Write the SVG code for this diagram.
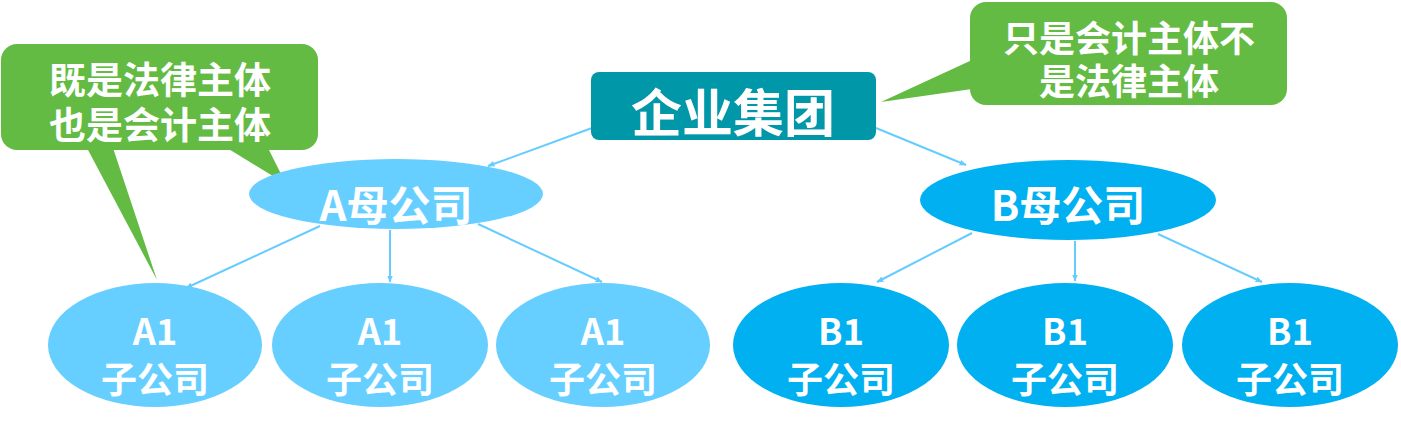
<svg xmlns="http://www.w3.org/2000/svg" width="1401" height="421" viewBox="0 0 1401 421">
<defs>
<style>
.t{font-family:"Microsoft YaHei","Noto Sans CJK SC",sans-serif;font-weight:bold;fill:#fff;text-anchor:middle}
.c{fill:#63BB44}
.ea{fill:#66CFFF}
.eb{fill:#00B0F0}
.s{font-size:36px}
.ln{stroke:#66CCFF;stroke-width:2;fill:none;marker-end:url(#ah)}
</style>
<marker id="ah" viewBox="0 0 12 10" refX="11" refY="5" markerWidth="7" markerHeight="6" orient="auto" markerUnits="userSpaceOnUse">
<path d="M0,0 L12,5 L0,10 Z" fill="#66CCFF"/>
</marker>
</defs>
<g id="connectors">
<line class="ln" x1="592" y1="128" x2="488" y2="166"/>
<line class="ln" x1="876" y1="128" x2="966" y2="165"/>
<line class="ln" x1="320" y1="226" x2="186" y2="288"/>
<line class="ln" x1="390" y1="230" x2="390" y2="282"/>
<line class="ln" x1="478" y1="224" x2="602" y2="282"/>
<line class="ln" x1="972" y1="233" x2="877" y2="282"/>
<line class="ln" x1="1075" y1="241" x2="1075" y2="281"/>
<line class="ln" x1="1158" y1="234" x2="1262" y2="282"/>
</g>
<g id="callout-left">
<rect class="c" x="1" y="44" width="317" height="106" rx="16"/>
<polygon class="c" points="87,148 113,148 157,280"/>
<polygon class="c" points="227,148 268,148 286,184"/>
<text class="t" x="160" y="94" font-size="37">既是法律主体</text>
<text class="t" x="160" y="139" font-size="37">也是会计主体</text>
</g>
<g id="callout-right">
<rect class="c" x="970" y="2" width="317" height="103" rx="16"/>
<polygon class="c" points="972,60 972,89 881,102"/>
<text class="t" x="1129" y="52" font-size="36">只是会计主体不</text>
<text class="t" x="1129" y="95" font-size="36">是法律主体</text>
</g>
<g id="group">
<rect x="591" y="72" width="285" height="68" rx="8" fill="#0097A9"/>
<text class="t" x="733" y="132" font-size="51">企业集团</text>
</g>
<g id="parentA">
<ellipse class="ea" cx="396" cy="194" rx="147" ry="35"/>
<text class="t" x="396" y="221" font-size="42">A母公司</text>
</g>
<g id="parentB">
<ellipse class="eb" cx="1068" cy="200" rx="148" ry="40"/>
<text class="t" x="1068" y="221" font-size="42">B母公司</text>
</g>
<g id="a1-1">
<ellipse class="ea" cx="155" cy="345" rx="107" ry="62"/>
<text class="t s" x="155" y="345">A1</text>
<text class="t s" x="155" y="393">子公司</text>
</g>
<g id="a1-2">
<ellipse class="ea" cx="380" cy="345" rx="108" ry="62"/>
<text class="t s" x="380" y="345">A1</text>
<text class="t s" x="380" y="393">子公司</text>
</g>
<g id="a1-3">
<ellipse class="ea" cx="603" cy="345" rx="107" ry="62"/>
<text class="t s" x="603" y="345">A1</text>
<text class="t s" x="603" y="393">子公司</text>
</g>
<g id="b1-1">
<ellipse class="eb" cx="841" cy="345" rx="108" ry="62"/>
<text class="t s" x="841" y="345">B1</text>
<text class="t s" x="841" y="393">子公司</text>
</g>
<g id="b1-2">
<ellipse class="eb" cx="1065" cy="345" rx="108" ry="62"/>
<text class="t s" x="1065" y="345">B1</text>
<text class="t s" x="1065" y="393">子公司</text>
</g>
<g id="b1-3">
<ellipse class="eb" cx="1290" cy="345" rx="108" ry="62"/>
<text class="t s" x="1290" y="345">B1</text>
<text class="t s" x="1290" y="393">子公司</text>
</g>
</svg>
